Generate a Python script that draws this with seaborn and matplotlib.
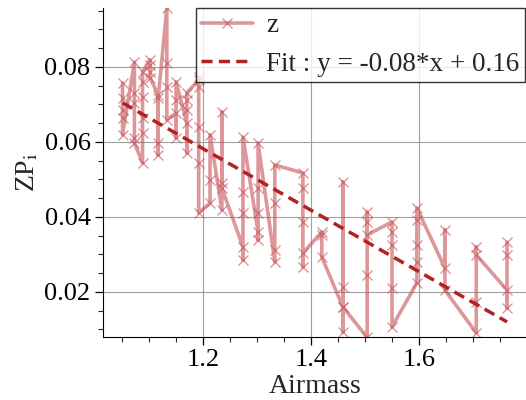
import matplotlib
matplotlib.use("Agg")
import matplotlib.pyplot as plt
import seaborn as sns
import numpy as np
import pandas as pd
from matplotlib.ticker import MultipleLocator

# ---- data ----
cluster_airmass = [1.051, 1.073, 1.088, 1.102, 1.117, 1.133, 1.150, 1.170, 1.192,
                   1.213, 1.235, 1.274, 1.302, 1.333, 1.385, 1.420, 1.459, 1.504,
                   1.550, 1.596, 1.648, 1.706, 1.763]
cluster_zp = [
    [0.0757, 0.0717, 0.0685, 0.0664, 0.0619],
    [0.0813, 0.0731, 0.0704, 0.0611, 0.0597],
    [0.0544, 0.0624, 0.0664, 0.0720, 0.0760, 0.0787],
    [0.0819, 0.0805, 0.0787, 0.0771],
    [0.0725, 0.0565, 0.0597, 0.0717],
    [0.0957, 0.0811, 0.0747, 0.0659],
    [0.0677, 0.0611, 0.0712, 0.0760],
    [0.0651, 0.0571, 0.0685, 0.0712, 0.0731],
    [0.0765, 0.0773, 0.0747, 0.0640, 0.0544, 0.0411],
    [0.0437, 0.0499, 0.0619],
    [0.0419, 0.0680, 0.0491, 0.0477],
    [0.0320, 0.0285, 0.0411, 0.0467, 0.0613],
    [0.0360, 0.0339, 0.0411, 0.0477, 0.0597],
    [0.0280, 0.0312, 0.0437, 0.0539],
    [0.0517, 0.0477, 0.0387, 0.0267, 0.0304],
    [0.0360, 0.0352, 0.0293],
    [0.0160, 0.0093, 0.0493, 0.0213, 0.0160],
    [0.0079, 0.0245, 0.0413, 0.0387, 0.0352],
    [0.0387, 0.0360, 0.0325, 0.0211, 0.0107],
    [0.0224, 0.0280, 0.0325, 0.0392, 0.0424],
    [0.0264, 0.0365, 0.0205],
    [0.0091, 0.0173, 0.0320, 0.0299],
    [0.0205, 0.0157, 0.0299, 0.0333],
]
fit_slope = -0.082
fit_intercept = 0.1566
fit_label = "Fit : y = -0.08*x + 0.16"
series_label = "z"

airmass = []
zp = []
for a, zs in zip(cluster_airmass, cluster_zp):
    for z in zs:
        airmass.append(a)
        zp.append(z)
df = pd.DataFrame({"Airmass": airmass, "ZP": zp})

fit_x = np.array([min(airmass), max(airmass)])
fit_df = pd.DataFrame({"Airmass": fit_x, "ZP": fit_slope * fit_x + fit_intercept})

# ---- style ----
sns.set_style("ticks")
plt.rcParams["font.family"] = ["Liberation Serif", "DejaVu Serif"]
plt.rcParams["mathtext.fontset"] = "stix"

fig = plt.figure(figsize=(5.26, 4.00), dpi=100)
x_lo, x_hi = 1.0148, 1.7995
ax_w_px = (x_hi - x_lo) * 540
ax = fig.add_axes([103 / 526, 63 / 400, ax_w_px / 526, (337 - 8) / 400])

sns.lineplot(data=df, x="Airmass", y="ZP", sort=False, estimator=None,
             color="#c8575c", alpha=0.62, linewidth=2.6, marker="x",
             markersize=7, markeredgewidth=1.0, markeredgecolor="#c8575c",
             label=series_label, ax=ax)
sns.lineplot(data=fit_df, x="Airmass", y="ZP", color="#b22222",
             linestyle=(0, (3.2, 1.8)), linewidth=2.5, label=fit_label, ax=ax)

ax.set_xlim(x_lo, x_hi)
ax.set_ylim(0.0080, 0.0957)
ax.xaxis.set_major_locator(MultipleLocator(0.2))
ax.xaxis.set_minor_locator(MultipleLocator(0.05))
ax.yaxis.set_major_locator(MultipleLocator(0.02))
ax.yaxis.set_minor_locator(MultipleLocator(0.005))
ax.grid(True, which="major", color="#a0a0a0", linewidth=0.8)
ax.tick_params(which="major", length=5.5, width=0.9, labelsize=19, colors="black")
ax.tick_params(which="minor", length=3.5, width=0.8)
sns.despine(ax=ax)
ax.spines["left"].set_color("black")
ax.spines["bottom"].set_color("black")

ax.set_xlabel("Airmass", fontsize=20, labelpad=2)
ax.set_ylabel(r"ZP$_\mathrm{i}$", fontsize=20, labelpad=3)

leg = ax.legend(loc="upper right", bbox_to_anchor=(1 - 2 / ax_w_px, 1.0),
                fontsize=19.5, frameon=True, fancybox=False,
                framealpha=0.8, edgecolor="black", borderaxespad=0,
                borderpad=0.2, handlelength=1.9, handletextpad=0.5)
leg.get_frame().set_linewidth(1.0)

fig.savefig("out.png", dpi=100)
